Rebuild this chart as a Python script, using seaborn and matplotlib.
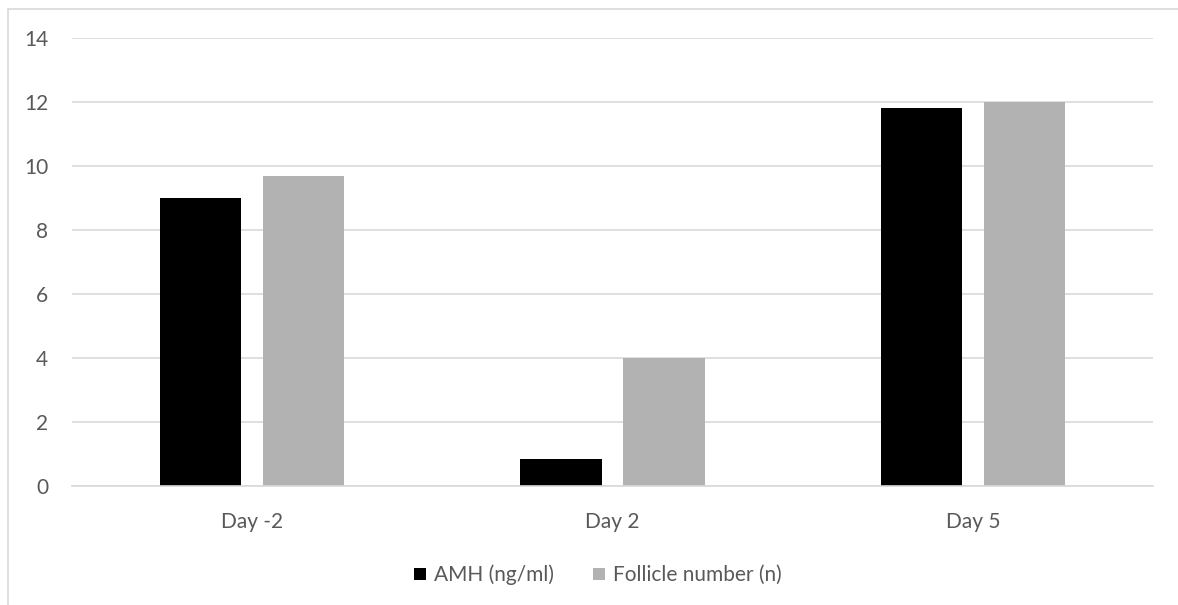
import matplotlib
matplotlib.use("Agg")
import matplotlib.pyplot as plt
import seaborn as sns
import pandas as pd
from matplotlib.lines import Line2D
from matplotlib.patches import Patch

categories = ["Day -2", "Day 2", "Day 5"]
series_names = ["AMH (ng/ml)", "Follicle number (n)"]
amh = [9.0, 0.85, 11.8]
follicles = [9.7, 4.0, 12.0]
y_ticks = [0, 2, 4, 6, 8, 10, 12, 14]

colors = ["#000000", "#b2b2b2"]
text_color = "#595959"
fs = 15

df = pd.DataFrame({
    "day": categories * 2,
    "series": [series_names[0]] * 3 + [series_names[1]] * 3,
    "value": amh + follicles,
})

sns.set_theme(style="white")
plt.rcParams["font.family"] = ["Lato", "DejaVu Sans"]

fig = plt.figure(figsize=(11.78, 6.05), dpi=100)
ax = fig.add_axes([72 / 1178, 1 - 486 / 605, (1153 - 72) / 1178, 448 / 605])

sns.barplot(data=df, x="day", y="value", hue="series", order=categories,
            hue_order=series_names, palette=colors, width=0.572, gap=0.213,
            saturation=1, ax=ax, legend=False, edgecolor="none", linewidth=0)

ax.set_xlim(-0.5, 2.5)
ax.set_ylim(0, 14)
ax.set_yticks(y_ticks)
ax.set_yticklabels([str(t) for t in y_ticks])
ax.yaxis.grid(True, color="#d9d9d9", linewidth=1.2)
ax.set_axisbelow(True)
for s in ["top", "right", "left"]:
    ax.spines[s].set_visible(False)
ax.spines["bottom"].set_color("#d9d9d9")
ax.spines["bottom"].set_linewidth(1.2)
ax.set_xlabel("")
ax.set_ylabel("")
ax.tick_params(axis="both", length=0, labelsize=fs, colors=text_color)
ax.tick_params(axis="y", pad=17)
ax.tick_params(axis="x", pad=19)

# figure border (top and left visible in reference)
fig.add_artist(Line2D([8 / 1178, 1], [1 - 9 / 605, 1 - 9 / 605], color="#d9d9d9", lw=1.2, transform=fig.transFigure))
fig.add_artist(Line2D([8 / 1178, 8 / 1178], [0, 1 - 9 / 605], color="#d9d9d9", lw=1.2, transform=fig.transFigure))

handles = [Patch(facecolor=c, edgecolor="none") for c in colors]
fig.legend(handles, series_names, loc="center", bbox_to_anchor=(598 / 1178, 1 - 575 / 605),
           ncol=2, frameon=False, fontsize=fs, labelcolor=text_color,
           handlelength=0.55, handleheight=0.55, handletextpad=0.4, columnspacing=1.9)

fig.savefig("out.png", dpi=100)
